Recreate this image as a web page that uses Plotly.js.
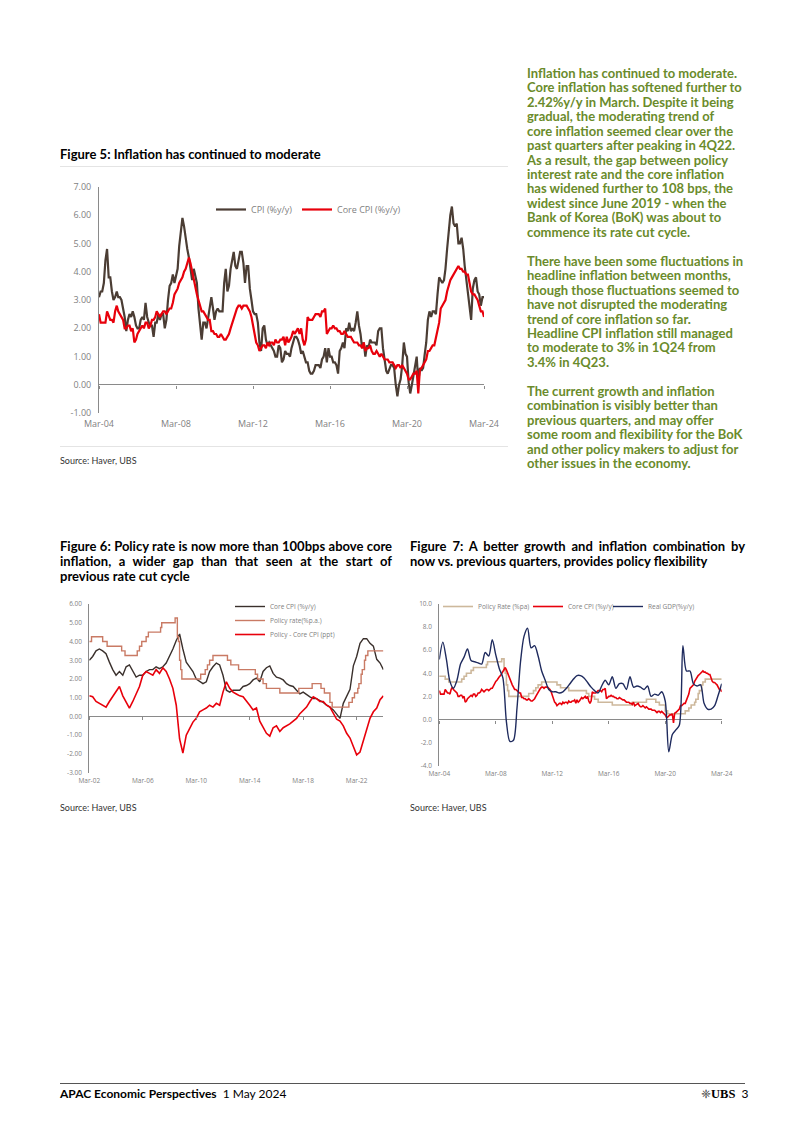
<!DOCTYPE html>
<html>
<head>
<meta charset="utf-8">
<script src="https://cdn.plot.ly/plotly-3.0.1.min.js"></script>
<style>
  html, body { margin: 0; padding: 0; background: #fff; }
  #page { position: relative; width: 802px; height: 1134px; overflow: hidden; background: #fff; }
  #chart { position: absolute; left: 0; top: 0; width: 802px; height: 1134px; }
  .txt { position: absolute; font-family: 'Lato', 'Open Sans', sans-serif; white-space: nowrap; color: #000; }
  .ttl { font-weight: 700; font-size: 13px; line-height: 15px; }
  .just { text-align: justify; text-align-last: justify; white-space: normal; }
  .rule { position: absolute; height: 1px; background: #e4e4e4; }
  .src { font-size: 9px; line-height: 12px; color: #333; }
  #side { left: 527px; top: 65.8px; font-size: 13px; line-height: 14.45px; font-weight: 700; color: #6a8b2b; }
</style>
</head>
<body>
<div id="page">
  <div id="chart"></div>

  <div class="txt" id="side">Inflation has continued to moderate.<br>Core inflation has softened further to<br>2.42%y/y in March. Despite it being<br>gradual, the moderating trend of<br>core inflation seemed clear over the<br>past quarters after peaking in 4Q22.<br>As a result, the gap between policy<br>interest rate and the core inflation<br>has widened further to 108 bps, the<br>widest since June 2019 - when the<br>Bank of Korea (BoK) was about to<br>commence its rate cut cycle.<br><br>There have been some fluctuations in<br>headline inflation between months,<br>though those fluctuations seemed to<br>have not disrupted the moderating<br>trend of core inflation so far.<br>Headline CPI inflation still managed<br>to moderate to 3% in 1Q24 from<br>3.4% in 4Q23.<br><br>The current growth and inflation<br>combination is visibly better than<br>previous quarters, and may offer<br>some room and flexibility for the BoK<br>and other policy makers to adjust for<br>other issues in the economy.</div>

  <div class="txt ttl" style="left:60px; top:147px;">Figure 5: Inflation has continued to moderate</div>
  <div class="rule" style="left:60px; top:166px; width:448px;"></div>
  <div class="rule" style="left:60px; top:446px; width:448px;"></div>
  <div class="txt src" style="left:60px; top:455px;">Source: Haver, UBS</div>

  <div class="txt ttl just" style="left:60px; top:539px; width:332px;">Figure 6: Policy rate is now more than 100bps above core</div>
  <div class="txt ttl just" style="left:60px; top:554px; width:332px;">inflation, a wider gap than that seen at the start of</div>
  <div class="txt ttl" style="left:60px; top:569px;">previous rate cut cycle</div>

  <div class="txt ttl just" style="left:410px; top:539px; width:335px;">Figure 7: A better growth and inflation combination by</div>
  <div class="txt ttl" style="left:410px; top:554px;">now vs. previous quarters, provides policy flexibility</div>

  <div class="txt src" style="left:60px; top:802px;">Source: Haver, UBS</div>
  <div class="txt src" style="left:410px; top:802px;">Source: Haver, UBS</div>

  <div style="position:absolute; left:60px; top:1083px; width:685px; height:1px; background:#555;"></div>
  <div class="txt" style="left:60px; top:1086px; font-size:12px; line-height:15px;"><b>APAC Economic Perspectives</b>&nbsp; 1 May 2024</div>
  <div class="txt" style="left:701px; top:1086px; font-size:12px; line-height:15px;"><span style="font-family:'DejaVu Sans'; font-size:12px; color:#444;">&#10056;</span><span style="font-family:'Liberation Serif'; font-weight:700; font-size:12.5px;">UBS</span>&nbsp; 3</div>
</div>

<script>
// ---------- helpers: category (date) axes ----------
function monthSeries(year, month, count, step) {
  const out = [];
  for (let i = 0; i < count; i++) {
    const m = (month - 1) + i * step;
    const y = year + Math.floor(m / 12);
    const mo = (m % 12) + 1;
    out.push(y + '-' + String(mo).padStart(2, '0') + '-01');
  }
  return out;
}

// ---------- DATA ----------
// Figure 5 / Figure 7: monthly, Mar-04 .. Mar-24
const headlineCPI = [
  3.1,3.3,3.3,3.6,4.4,4.8,3.8,3.8,3.3,3.0,
  3.1,3.3,3.1,3.1,3.0,2.7,2.4,1.9,2.3,2.5,2.4,2.6,
  2.4,2.1,2.0,2.0,2.3,2.4,2.3,2.9,2.4,2.2,2.1,2.1,
  1.7,2.2,2.2,2.5,2.3,2.5,2.5,2.0,2.3,3.0,3.5,3.6,
  3.9,3.6,3.9,4.1,4.9,5.5,5.9,5.6,5.1,4.8,4.5,4.1,
  3.7,4.1,3.9,3.6,2.7,2.0,1.6,2.2,2.2,2.0,2.4,2.8,
  3.1,2.7,2.3,2.6,2.7,2.6,2.6,2.6,3.6,4.1,3.3,3.5,
  4.1,4.5,4.7,4.2,4.1,4.4,4.7,4.7,4.3,3.6,4.2,4.2,
  3.4,3.0,2.6,2.5,2.5,2.2,1.5,1.2,2.0,2.1,1.6,1.4,
  1.5,1.4,1.3,1.2,1.0,1.0,1.4,1.3,0.8,0.9,1.2,1.1,
  1.1,1.0,1.3,1.5,1.7,1.7,1.6,1.4,1.1,1.2,1.0,0.8,
  0.8,0.5,0.4,0.4,0.5,0.7,0.7,0.7,0.6,0.9,1.0,1.3,
  0.8,1.3,1.0,1.0,0.8,0.8,0.7,0.4,1.2,1.3,1.5,1.3,
  2.0,1.9,2.2,1.9,2.0,1.9,2.2,2.6,2.1,1.8,1.3,1.5,
  1.0,1.4,1.3,1.6,1.5,1.5,1.5,1.4,1.9,2.0,2.0,1.3,
  0.8,0.5,0.4,0.6,0.7,0.7,0.6,0.0,-0.4,0.0,0.2,0.7,
  1.5,1.1,1.0,0.1,-0.3,0.0,0.3,0.7,1.0,0.1,0.6,0.5,
  0.6,1.1,1.5,2.3,2.6,2.4,2.6,2.6,2.5,3.2,3.8,3.7,
  3.6,3.7,4.1,4.8,5.4,6.0,6.3,5.7,5.6,5.7,5.0,5.0,
  5.2,4.8,4.2,3.7,3.3,2.7,2.3,3.4,3.7,3.8,3.3,3.2,
  2.8,3.1,3.1
];
const coreCPI = [
  2.5,2.2,2.2,2.2,2.2,2.6,2.4,2.3,2.3,2.2,
  2.6,2.8,2.6,2.5,2.4,2.3,2.0,2.0,2.1,2.1,1.9,2.0,
  1.5,1.6,1.8,1.9,2.0,2.1,2.0,2.2,2.2,2.0,2.1,2.3,
  2.3,2.4,2.6,2.5,2.4,2.5,2.6,2.6,2.5,2.6,2.7,2.7,
  2.9,3.2,3.3,3.4,3.6,3.7,3.8,4.0,4.1,4.3,4.5,4.3,
  4.0,3.8,3.5,3.2,3.0,2.8,2.6,2.6,2.5,2.4,2.3,2.3,
  1.9,1.9,1.8,1.8,1.7,1.7,1.8,1.7,1.6,1.6,1.7,1.8,
  2.0,2.2,2.4,2.6,2.7,2.8,2.8,2.7,2.8,2.8,2.8,2.7,
  2.6,2.4,2.1,1.8,1.5,1.4,1.2,1.3,1.4,1.4,1.3,1.5,
  1.4,1.5,1.5,1.4,1.6,1.5,1.5,1.6,1.6,1.7,1.4,1.7,
  1.5,1.6,1.7,1.9,1.8,1.9,2.0,1.8,2.0,1.6,1.4,1.6,
  2.4,2.3,2.3,2.3,2.4,2.5,2.5,2.5,2.4,2.6,2.6,2.7,
  1.8,1.9,2.0,2.0,2.1,2.0,2.0,1.9,1.9,1.8,1.8,1.9,
  1.8,1.7,1.7,1.7,1.6,1.5,1.5,1.5,1.4,1.4,1.3,1.5,
  1.2,1.3,1.3,1.4,1.2,1.1,1.1,1.2,1.1,1.0,1.1,1.0,
  0.9,0.9,0.9,0.8,0.8,0.8,0.7,0.6,0.7,0.7,0.6,0.7,
  0.6,0.5,0.4,0.2,0.2,0.3,0.4,0.4,0.5,-0.3,0.55,0.6,
  0.7,0.8,0.9,1.2,1.2,1.3,1.4,1.4,1.7,2.0,2.2,2.7,
  2.8,2.9,3.0,3.3,3.5,3.7,3.8,3.9,4.0,4.1,4.2,4.1,
  4.1,4.0,4.0,3.9,3.9,3.6,3.3,3.2,3.2,3.1,3.0,2.8,
  2.6,2.6,2.4
];
const months04 = monthSeries(2004, 3, headlineCPI.length, 1);

// Figure 6: quarterly, Mar-02 .. Mar-24
const coreCPIFig6 = [
  3.0,3.2,3.5,3.6,  3.5,3.35,2.9,2.5,  2.2,2.4,2.2,2.65,  2.75,2.4,2.1,2.2,
  2.2,2.4,2.5,2.5,  2.65,2.55,2.65,2.85,  3.2,3.6,4.05,4.4,  3.6,2.9,2.65,2.4,
  2.0,1.85,1.75,1.85,  2.4,2.65,2.85,2.75,  2.2,1.4,1.3,1.4,  1.4,1.4,1.6,1.65,
  1.75,1.95,2.05,1.85,  2.4,2.6,2.7,2.3,  2.1,2.05,1.95,1.75,  1.65,1.6,1.4,1.2,
  1.3,1.15,1.05,0.95,  0.95,0.85,0.75,0.6,  0.5,0.35,0.15,-0.1,  0.7,1.1,1.45,2.7,
  3.2,3.9,4.15,4.15,  3.9,3.75,3.05,2.85,  2.5
];
const policyGap = [
  1.1,1.05,0.8,0.7,  0.6,0.5,0.8,1.05,  1.3,1.6,1.1,0.8,  0.45,0.8,1.2,1.6,
  2.2,2.4,2.3,2.2,  2.5,2.3,2.6,2.4,  2.0,1.5,0.6,-1.2,  -1.95,-1.0,-0.65,-0.3,
  -0.1,0.25,0.35,0.45,  0.6,0.5,0.7,0.6,  1.3,1.85,1.5,1.3,  1.2,1.1,1.05,0.85,
  0.6,0.35,0.45,-0.25,  -0.6,-0.9,-1.05,-0.6,  -0.5,-0.8,-0.6,-0.5,  -0.4,-0.25,-0.1,0.15,
  0.35,0.5,0.8,1.05,  0.95,0.8,0.8,0.6,  0.5,0.15,-0.15,-0.25,  -0.5,-0.9,-1.15,-1.6,
  -2.05,-1.9,-1.25,-0.7,  -0.1,0.25,0.45,0.9,  1.1
];
const quarters02 = monthSeries(2002, 3, coreCPIFig6.length, 3);

// BoK policy rate: change dates and levels (step series)
const policyDates = ['2002-03-01','2002-05-01','2003-03-01','2003-07-01','2004-08-01','2004-11-01','2005-10-01','2005-12-01','2006-02-01','2006-06-01','2006-08-01','2007-07-01','2007-08-01','2008-08-01','2008-10-01','2008-11-01','2008-12-01','2009-01-01','2009-02-01','2010-07-01','2010-11-01','2011-01-01','2011-03-01','2011-06-01','2012-07-01','2012-10-01','2013-05-01','2014-08-01','2014-10-01','2015-03-01','2015-06-01','2016-06-01','2017-11-01','2018-11-01','2019-07-01','2019-10-01','2020-03-01','2020-05-01','2021-08-01','2021-11-01','2022-01-01','2022-04-01','2022-05-01','2022-07-01','2022-08-01','2022-10-01','2022-11-01','2023-01-01','2024-03-01'];
const policyRate = [4.00,4.25,4.00,3.75,3.50,3.25,3.50,3.75,4.00,4.25,4.50,4.75,5.00,5.25,4.25,4.00,3.00,2.50,2.00,2.25,2.50,2.75,3.00,3.25,3.00,2.75,2.50,2.25,2.00,1.75,1.50,1.25,1.50,1.75,1.50,1.25,0.75,0.50,0.75,1.00,1.25,1.50,1.75,2.25,2.50,3.00,3.25,3.50,3.50];

// Figure 7: real GDP y/y, quarterly Mar-04 .. Mar-24
const realGDP = [
  5.2,6.7,5.2,3.3,  2.7,3.4,4.8,5.4,  6.1,5.1,5.0,4.9,  4.8,5.8,5.5,6.9,
  5.6,4.4,3.6,-0.2,  -1.9,-1.8,1.0,5.0,  7.2,7.9,6.2,6.4,  5.5,4.2,3.4,2.6,
  2.4,2.4,2.3,2.4,  2.7,3.1,3.5,3.8,  3.8,3.6,3.2,2.8,  2.5,2.3,2.9,3.4,
  3.0,3.7,2.7,3.1,  3.1,2.6,3.7,2.8,  2.9,2.8,2.6,2.9,  2.0,2.2,2.1,2.4,
  1.6,-2.8,-1.3,-0.9,  -0.5,6.4,4.2,4.2,  3.1,2.9,3.0,1.4,  0.9,0.9,1.2,2.1,
  3.1
];
const quarters04 = monthSeries(2004, 3, realGDP.length, 3);

// Tick labels
const xTicks04 = ['2004-03-01','2008-03-01','2012-03-01','2016-03-01','2020-03-01','2024-03-01'];
const xLabels04 = ['Mar-04','Mar-08','Mar-12','Mar-16','Mar-20','Mar-24'];
const xTicks02 = ['2002-03-01','2006-03-01','2010-03-01','2014-03-01','2018-03-01','2022-03-01'];
const xLabels02 = ['Mar-02','Mar-06','Mar-10','Mar-14','Mar-18','Mar-22'];
const yTicksF5 = [-1,0,1,2,3,4,5,6,7];
const yLabelsF5 = ['-1.00','0.00','1.00','2.00','3.00','4.00','5.00','6.00','7.00'];
const yTicksF6 = [-3,-2,-1,0,1,2,3,4,5,6];
const yLabelsF6 = ['-3.00','-2.00','-1.00','0.00','1.00','2.00','3.00','4.00','5.00','6.00'];
const yTicksF7 = [-4,-2,0,2,4,6,8,10];
const yLabelsF7 = ['-4.0','-2.0','0.0','2.0','4.0','6.0','8.0','10.0'];

// ---------- LAYOUT GEOMETRY (page pixels) ----------
const W = 802, H = 1134;
const fx = v => v / W;
const fy = v => 1 - v / H;
const G5 = { x: [99, 484],     y: [186.7, 413.3], range: [-1, 7],  xr: ['2004-03-01', '2024-03-01'] };
const G6 = { x: [89.3, 383.4], y: [604, 772.7],   range: [-3, 6],  xr: ['2002-03-01', '2024-03-01'] };
const G7 = { x: [439.3, 721.7],y: [604, 765.7],   range: [-4, 10], xr: ['2004-03-01', '2024-03-01'] };
function zeroPos(g) {
  const b = fy(g.y[1]), t = fy(g.y[0]);
  return b + (0 - g.range[0]) / (g.range[1] - g.range[0]) * (t - b);
}
const AX = '#8a8a8a', LBL = '#7f7f7f', FONT = 'Open Sans, sans-serif';

function xMain(g, tv, tt, size, anchor, standoff) {
  return { domain: [fx(g.x[0]), fx(g.x[1])], range: g.xr, type: 'date', anchor: anchor,
    tickmode: 'array', tickvals: tv, ticktext: tt, ticks: '', showline: false, showgrid: false,
    zeroline: false, ticklabelstandoff: standoff, tickfont: { family: FONT, size: size, color: LBL } };
}
function xTickAxis(g, tv, over) {
  return { overlaying: over, anchor: 'free', position: zeroPos(g), range: g.xr, type: 'date',
    tickmode: 'array', tickvals: tv, showticklabels: false, ticks: 'outside', ticklen: 3,
    tickwidth: 1, tickcolor: AX, showline: false, showgrid: false, zeroline: false };
}
function yMain(g, tv, tt, size, anchor) {
  return { domain: [fy(g.y[1]), fy(g.y[0])], range: g.range, anchor: anchor,
    tickmode: 'array', tickvals: tv, ticktext: tt, ticks: '', showline: true, linecolor: AX,
    linewidth: 1, showgrid: false, zeroline: true, zerolinecolor: AX, zerolinewidth: 1,
    ticklabelstandoff: 5, tickfont: { family: FONT, size: size, color: LBL } };
}
// one-entry legend: textLeft = x of the label text, rowY = centre of the row (page px)
function legendAt(textLeft, rowY, size) {
  return { x: fx(textLeft - 40), y: fy(rowY - 13), xanchor: 'left', yanchor: 'top',
    orientation: 'v', bgcolor: 'rgba(0,0,0,0)', borderwidth: 0, itemwidth: 30,
    font: { family: FONT, size: size, color: LBL } };
}

const traces = [
  // Figure 5
  { x: months04, y: headlineCPI, name: 'CPI (%y/y)', type: 'scatter', mode: 'lines',
    line: { color: '#4b3d34', width: 2.2 }, xaxis: 'x', yaxis: 'y', legend: 'legend' },
  { x: months04, y: coreCPI, name: 'Core CPI (%y/y)', type: 'scatter', mode: 'lines',
    line: { color: '#e8000b', width: 2.2 }, xaxis: 'x', yaxis: 'y', legend: 'legend2' },
  // Figure 6
  { x: quarters02, y: coreCPIFig6, name: 'Core CPI (%y/y)', type: 'scatter', mode: 'lines',
    line: { color: '#3a302c', width: 1.4 }, xaxis: 'x2', yaxis: 'y2', legend: 'legend3' },
  { x: policyDates, y: policyRate, name: 'Policy rate(%p.a.)', type: 'scatter', mode: 'lines',
    line: { color: '#c97a64', width: 1.4, shape: 'hv' }, xaxis: 'x2', yaxis: 'y2', legend: 'legend4' },
  { x: quarters02, y: policyGap, name: 'Policy - Core CPI (ppt)', type: 'scatter', mode: 'lines',
    line: { color: '#e8000b', width: 1.6 }, xaxis: 'x2', yaxis: 'y2', legend: 'legend5' },
  // Figure 7
  { x: policyDates, y: policyRate, name: 'Policy Rate (%pa)', type: 'scatter', mode: 'lines',
    line: { color: '#cdb89c', width: 1.6, shape: 'hv' }, xaxis: 'x3', yaxis: 'y3', legend: 'legend6' },
  { x: months04, y: coreCPI, name: 'Core CPI (%y/y)', type: 'scatter', mode: 'lines',
    line: { color: '#e8000b', width: 1.6 }, xaxis: 'x3', yaxis: 'y3', legend: 'legend7' },
  { x: quarters04, y: realGDP, name: 'Real GDP(%y/y)', type: 'scatter', mode: 'lines',
    line: { color: '#1f2b5e', width: 1.4, shape: 'spline', smoothing: 0.8 }, xaxis: 'x3', yaxis: 'y3', legend: 'legend8' },
  // tick-mark carriers on the zero lines
  { x: [], y: [], type: 'scatter', mode: 'lines', xaxis: 'x4', yaxis: 'y', showlegend: false, hoverinfo: 'skip' },
  { x: [], y: [], type: 'scatter', mode: 'lines', xaxis: 'x5', yaxis: 'y2', showlegend: false, hoverinfo: 'skip' },
  { x: [], y: [], type: 'scatter', mode: 'lines', xaxis: 'x6', yaxis: 'y3', showlegend: false, hoverinfo: 'skip' }
];

const layout = {
  width: W, height: H, autosize: false,
  margin: { l: 0, r: 0, t: 0, b: 0, pad: 0 },
  paper_bgcolor: 'rgba(0,0,0,0)', plot_bgcolor: 'rgba(0,0,0,0)',
  showlegend: true,
  xaxis:  xMain(G5, xTicks04, xLabels04, 9, 'y', 4),
  yaxis:  yMain(G5, yTicksF5, yLabelsF5, 9, 'x'),
  xaxis2: xMain(G6, xTicks02, xLabels02, 6.5, 'y2', 3),
  yaxis2: yMain(G6, yTicksF6, yLabelsF6, 6.5, 'x2'),
  xaxis3: xMain(G7, xTicks04, xLabels04, 6.5, 'y3', 3),
  yaxis3: yMain(G7, yTicksF7, yLabelsF7, 6.5, 'x3'),
  xaxis4: xTickAxis(G5, xTicks04, 'x'),
  xaxis5: xTickAxis(G6, xTicks02, 'x2'),
  xaxis6: xTickAxis(G7, xTicks04, 'x3'),
  legend:  legendAt(251, 208, 9),
  legend2: legendAt(337, 208, 9),
  legend3: legendAt(270, 605, 6.5),
  legend4: legendAt(270, 619, 6.5),
  legend5: legendAt(270, 633, 6.5),
  legend6: legendAt(478, 605, 6.5),
  legend7: legendAt(568, 605, 6.5),
  legend8: legendAt(648, 605, 6.5)
};

Plotly.newPlot('chart', traces, layout, { staticPlot: true, displayModeBar: false });
</script>
</body>
</html>
